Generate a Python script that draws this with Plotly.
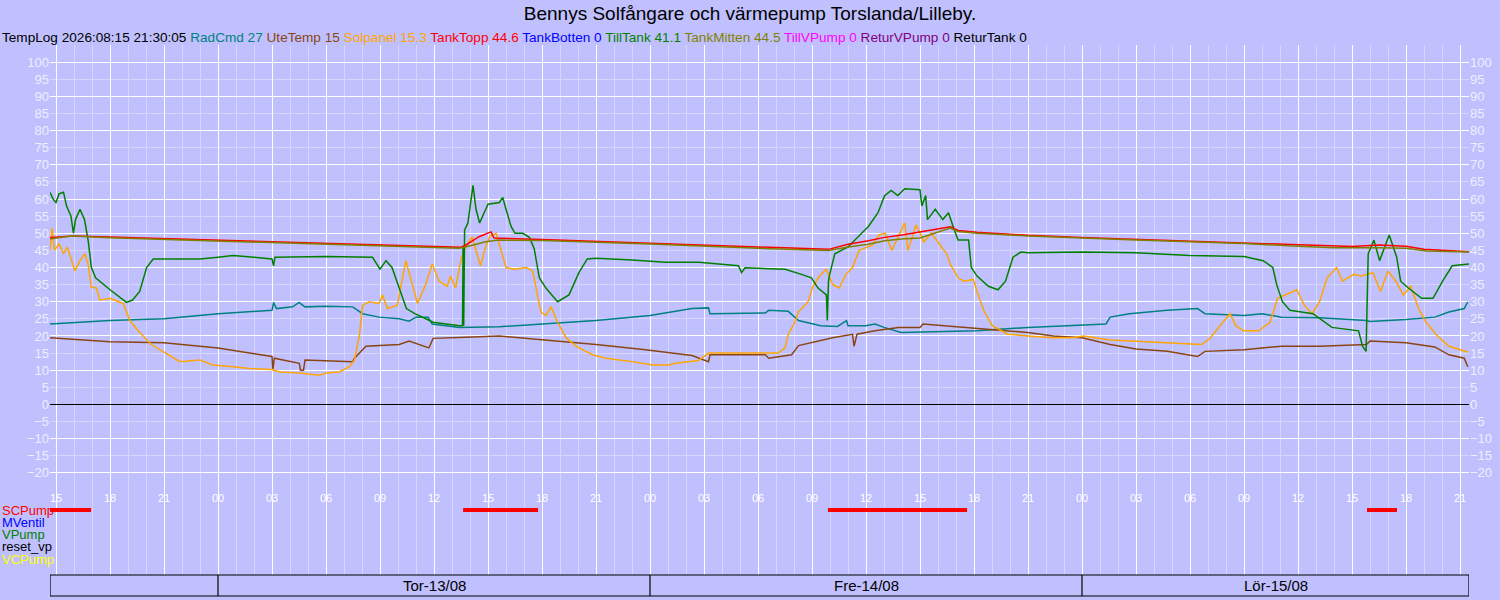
import plotly.graph_objects as go

# --- data (day-of-month + clock time, value) ---
ute_t = ["12 14:40", "12 18:00", "12 21:00", "13 00:00", "13 03:00", "13 03:03", "13 03:08", "13 04:31", "13 04:35",
         "13 04:45", "13 04:50", "13 07:29", "13 07:35", "13 08:13", "13 10:04", "13 10:37", "13 11:43", "13 11:57",
         "13 13:47", "13 15:38", "13 21:00", "13 23:45", "14 02:20", "14 03:15", "14 03:20", "14 06:24", "14 06:36",
         "14 07:52", "14 08:15", "14 10:09", "14 11:15", "14 11:20", "14 11:30", "14 12:30", "14 13:48", "14 15:00",
         "14 15:10", "14 18:10", "14 21:00", "14 22:24", "15 00:00", "15 01:34", "15 03:00", "15 04:44", "15 06:25",
         "15 06:50", "15 09:00", "15 11:05", "15 13:12", "15 15:48", "15 16:00", "15 18:00", "15 19:36", "15 20:23",
         "15 21:14", "15 21:26"]
ute_v = [19.5, 18.3, 18, 16.5, 14, 10.2, 13.5, 12, 10, 10, 13, 12.5, 13.5, 17, 17.5, 18.5, 16.5, 19.3,
         19.6, 20, 17.5, 16, 14.3, 12.5, 14.5, 14.5, 13.5, 14.5, 17.2, 19.5, 20.5, 17, 20.5, 21.5, 22.5, 22.5,
         23.5, 22.3, 21, 20, 19.5, 17.5, 16.2, 15.5, 14, 15.5, 16, 17, 17, 17.5, 18.5, 18, 16.8, 14.5, 13.5, 11]

rad_t = ["12 14:40", "12 18:00", "12 21:00", "13 00:00", "13 03:00", "13 03:05", "13 03:15", "13 04:09", "13 04:30",
         "13 04:50", "13 06:00", "13 07:29", "13 08:02", "13 08:57", "13 10:04", "13 10:37", "13 11:00", "13 11:40",
         "13 11:54", "13 13:25", "13 15:38", "13 21:00", "14 00:00", "14 02:20", "14 03:15", "14 03:20", "14 06:24",
         "14 06:36", "14 07:41", "14 08:15", "14 09:29", "14 10:25", "14 10:55", "14 11:00", "14 11:59", "14 12:30",
         "14 13:00", "14 13:57", "14 18:10", "14 21:00", "15 01:20", "15 01:34", "15 02:38", "15 04:44", "15 06:25",
         "15 06:50", "15 09:00", "15 10:00", "15 11:05", "15 13:12", "15 15:48", "15 16:00", "15 18:00", "15 19:36",
         "15 20:23", "15 21:14", "15 21:26"]
rad_v = [23.5, 24.5, 25, 26.5, 27.5, 29.8, 28, 28.5, 29.8, 28.5, 28.7, 28.5, 26.5, 25.5, 25, 24.3, 25.5, 25.5,
         23.5, 22.5, 22.7, 24.5, 26, 28, 28.2, 26.5, 26.7, 27.5, 27.2, 24.5, 23, 22.8, 24.5, 23, 23, 23.5,
         22.5, 21, 21.5, 22.5, 23.5, 25.5, 26.5, 27.5, 28, 26.5, 26, 26.5, 25.5, 25.3, 24.5, 24.2, 24.8, 25.5,
         27, 28, 30]

sol_t = ["12 14:40", "12 14:47", "12 14:55", "12 15:10", "12 15:25", "12 15:38", "12 16:03", "12 16:20", "12 16:36",
         "12 16:47", "12 16:58", "12 17:15", "12 17:26", "12 18:00", "12 18:44", "12 19:06", "12 19:39", "12 20:18",
         "12 20:56", "12 21:53", "12 22:59", "12 23:43", "13 00:50", "13 01:45", "13 03:00", "13 03:25", "13 04:31",
         "13 05:38", "13 06:00", "13 06:44", "13 07:18", "13 07:35", "13 07:51", "13 08:02", "13 08:24", "13 08:57",
         "13 09:08", "13 09:25", "13 09:58", "13 10:15", "13 10:26", "13 10:48", "13 11:05", "13 11:32", "13 11:54",
         "13 12:17", "13 12:44", "13 12:55", "13 13:12", "13 13:29", "13 13:40", "13 14:07", "13 14:35", "13 14:52",
         "13 15:05", "13 15:27", "13 15:44", "13 16:00", "13 16:28", "13 17:07", "13 17:29", "13 17:40", "13 17:56",
         "13 18:13", "13 18:30", "13 18:52", "13 19:20", "13 19:53", "13 20:48", "13 21:32", "13 23:01", "14 00:07",
         "14 01:02", "14 01:24", "14 02:41", "14 03:15", "14 07:08", "14 07:30", "14 07:41", "14 08:03", "14 08:15",
         "14 08:47", "14 09:03", "14 09:25", "14 09:47", "14 10:09", "14 10:31", "14 10:53", "14 11:15", "14 11:37",
         "14 12:21", "14 12:43", "14 13:04", "14 13:26", "14 13:48", "14 14:09", "14 14:20", "14 14:47", "14 15:13",
         "14 15:38", "14 16:03", "14 16:29", "14 16:41", "14 17:07", "14 17:26", "14 17:58", "14 18:10", "14 18:35",
         "14 19:01", "14 19:52", "14 21:00", "14 22:24", "14 23:27", "15 00:05", "15 01:34", "15 04:44", "15 06:38",
         "15 07:03", "15 07:41", "15 08:13", "15 08:33", "15 08:58", "15 09:49", "15 10:27", "15 10:52", "15 11:18",
         "15 11:56", "15 12:21", "15 12:47", "15 13:12", "15 13:37", "15 14:09", "15 14:28", "15 15:06", "15 15:32",
         "15 16:10", "15 16:35", "15 17:00", "15 17:26", "15 17:51", "15 18:16", "15 18:42", "15 19:07", "15 19:45",
         "15 20:23", "15 21:26"]
sol_v = [45, 51.5, 45, 47, 44, 46, 39, 42, 44,
         41, 34.3, 34, 30.5, 31, 29.5, 24.5, 21, 17.5,
         15.5, 12.5, 13, 11.5, 11, 10.5, 10.2, 9.5, 9.2,
         8.5, 9.2, 9.5, 11, 13, 20, 29, 30, 29.5,
         32, 28, 29, 37, 42, 35, 29.5, 35, 41,
         36, 34.5, 37.5, 34, 42, 45, 49, 40.5, 46,
         49, 50, 45, 40, 39.5, 40, 39, 34, 27,
         26, 28.5, 24, 19.5, 17, 14.5, 13.5, 12.5, 11.5,
         11.5, 12, 12.8, 15, 15, 16.5, 20.5, 24, 27,
         30, 34.5, 37.5, 39.5, 35, 34, 38, 40, 45,
         46.5, 49.5, 50, 45, 49, 53, 45, 52.5, 47.5,
         50, 47, 44, 41, 37, 36, 36.5, 33, 27,
         23, 20.5, 20, 19.5, 19.5, 20, 18.8, 18, 17.5,
         19, 23, 26.5, 23, 21.5, 21.5, 24, 31, 32,
         33.5, 29, 26.5, 30, 37, 40, 36, 38, 37.5,
         38.5, 33, 39, 36, 32, 34.5, 28, 24, 20,
         17, 15.3]

topp_t = ["12 14:40", "12 16:00", "12 18:00", "13 00:00", "13 06:00", "13 12:00", "13 13:30", "13 13:45", "13 14:30",
          "13 15:10", "13 15:20", "13 18:00", "13 21:00", "14 00:00", "14 06:00", "14 09:55", "14 11:00", "14 12:08",
          "14 13:02", "14 14:00", "14 15:00", "14 16:03", "14 16:41", "14 17:07", "14 18:10", "14 21:00", "15 00:00",
          "15 03:00", "15 06:00", "15 09:00", "15 12:00", "15 15:00", "15 16:30", "15 18:00", "15 19:00", "15 21:30"]
topp_v = [48.8, 49.2, 48.9, 48.0, 47.1, 46.2, 45.9, 46.5, 49,
          50.4, 48.6, 48.2, 47.6, 47.1, 46.0, 45.3, 46.8, 47.8,
          48.8, 49.5, 50.3, 51.3, 51.9, 50.8, 50.3, 49.4, 48.8,
          48.3, 47.8, 47.3, 46.6, 46.1, 46.6, 46.2, 45.3, 44.6]

mitt_t = ["12 14:40", "12 15:50", "12 18:00", "13 00:00", "13 06:00", "13 12:00", "13 13:24", "13 14:08", "13 14:52",
          "13 15:36", "13 18:00", "13 21:00", "14 00:00", "14 06:00", "14 09:55", "14 11:00", "14 12:08", "14 13:02",
          "14 13:57", "14 15:00", "14 16:03", "14 16:41", "14 17:07", "14 18:10", "14 21:00", "15 00:00", "15 03:00",
          "15 06:00", "15 09:00", "15 12:00", "15 14:00", "15 16:30", "15 18:00", "15 19:10", "15 21:30"]
mitt_v = [48.3, 49.2, 48.7, 47.8, 46.8, 45.8, 45.6, 46.5, 47.5,
          48.0, 47.9, 47.4, 46.9, 45.6, 45.0, 46.0, 46.8, 47.8,
          48.3, 48.6, 50.3, 51.5, 50.5, 50.0, 49.2, 48.5, 48.0,
          47.5, 47.0, 46.2, 45.8, 45.8, 45.6, 44.8, 44.5]

till_t = ["12 14:40", "12 14:50", "12 15:00", "12 15:10", "12 15:25", "12 15:35", "12 15:50", "12 15:58", "12 16:05",
          "12 16:20", "12 16:35", "12 16:47", "12 16:58", "12 17:12", "12 18:00", "12 18:55", "12 19:15", "12 19:39",
          "12 20:02", "12 20:24", "12 21:00", "12 23:00", "13 00:00", "13 00:50", "13 02:00", "13 03:00", "13 03:05",
          "13 03:10", "13 06:00", "13 08:35", "13 09:00", "13 09:20", "13 09:40", "13 10:00", "13 10:15", "13 10:28",
          "13 10:56", "13 11:57", "13 13:25", "13 13:35", "13 13:37", "13 13:39", "13 13:42", "13 13:53", "13 14:10",
          "13 14:20", "13 14:32", "13 15:00", "13 15:38", "13 15:49", "13 16:00", "13 16:17", "13 16:30", "13 16:56",
          "13 17:18", "13 17:34", "13 17:51", "13 18:13", "13 18:52", "13 19:30", "13 20:03", "13 20:31", "13 21:00",
          "13 23:00", "14 00:52", "14 02:43", "14 04:55", "14 05:05", "14 05:17", "14 07:30", "14 08:25", "14 08:58",
          "14 09:20", "14 09:48", "14 09:51", "14 09:55", "14 09:59", "14 10:16", "14 11:00", "14 11:45", "14 12:08",
          "14 12:40", "14 13:02", "14 13:24", "14 13:46", "14 14:09", "14 15:00", "14 15:06", "14 15:19", "14 15:25",
          "14 15:51", "14 16:16", "14 16:35", "14 16:54", "14 17:07", "14 17:42", "14 17:51", "14 18:10", "14 18:48",
          "14 19:20", "14 19:45", "14 20:10", "14 20:36", "14 21:00", "15 00:00", "15 03:00", "15 06:00", "15 09:00",
          "15 10:04", "15 10:36", "15 10:49", "15 11:08", "15 11:33", "15 12:50", "15 13:53", "15 15:22", "15 15:35",
          "15 15:47", "15 15:54", "15 16:13", "15 16:32", "15 17:04", "15 17:29", "15 17:42", "15 18:08", "15 18:52",
          "15 19:30", "15 20:02", "15 20:34", "15 21:30"]
till_v = [62, 60, 59, 61.5, 62, 58, 55, 50, 54,
          57, 54, 48, 40, 37, 33.5, 29.8, 30.5, 33,
          40, 42.5, 42.5, 42.5, 43, 43.5, 43, 42.5, 40.5,
          43, 43.2, 43, 39.5, 42, 40, 35, 31, 28,
          26.5, 24, 23, 23, 46, 23, 51, 53, 64,
          57, 53, 58.5, 59, 60.5, 57, 52, 50, 50,
          48.8, 45.5, 37, 34, 30, 32, 38.5, 42.5, 42.7,
          42.2, 41.5, 41.5, 40.5, 38.5, 39.9, 39.5, 38, 37,
          34, 32, 24.5, 36, 38, 44, 46, 50, 52,
          56, 61, 62.5, 61, 63, 62.7, 58, 61, 54,
          57, 54, 56, 51, 48, 48, 40, 37.5, 34.5,
          33.5, 36, 43, 44.5, 44.3, 44.5, 44.3, 43.5, 43.2,
          42, 40, 35, 30, 27.5, 26.5, 22.5, 21.5, 17,
          15.5, 44, 48, 42, 49.5, 43, 36, 34, 31,
          31, 36, 40.5, 41]

# SCPump on-intervals
sc_on = [("12 14:40", "12 16:57"), ("13 13:37", "13 17:47"), ("14 09:53", "14 17:37"), ("15 15:50", "15 17:30")]

pump_names = ["SCPump", "MVentil", "VPump", "reset_vp", "VCPump"]
pump_colors = ["#ff0000", "#0000ff", "#008000", "#000000", "#ffff00"]

header_items = [("RadCmd 27", "#008080"), ("UteTemp 15", "#8b4513"), ("Solpanel 15.3", "#ffa500"),
                ("TankTopp 44.6", "#ff0000"), ("TankBotten 0", "#0000ff"), ("TillTank 41.1", "#008000"),
                ("TankMitten 44.5", "#808000"), ("TillVPump 0", "#ff00ff"), ("ReturVPump 0", "#800080"),
                ("ReturTank 0", "#000000")]

day_starts = ["13 00:00", "14 00:00", "15 00:00"]
day_labels = [("13 12:00", "Tor-13/08"), ("14 12:00", "Fre-14/08"), ("15 10:45", "Lör-15/08")]

x_start, x_end = "12 14:40", "15 21:30"
ytick_vals = list(range(-20, 101, 5))


def ts(s):
    return f"2026-08-{s[:2]} {s[3:]}"


def tl(lst):
    return [ts(s) for s in lst]


BG = "#c0c0ff"
MINOR = "#d6d6ff"
LABEL = "#eeeeff"
SANS = "Liberation Sans, Arial, sans-serif"

fig = go.Figure()

series = [
    (rad_t, rad_v, "#008080"),
    (ute_t, ute_v, "#8b4513"),
    (sol_t, sol_v, "#ffa500"),
    (till_t, till_v, "#008000"),
    (topp_t, topp_v, "#ff0000"),
    (mitt_t, mitt_v, "#808000"),
]
for t, v, c in series:
    fig.add_trace(go.Scatter(x=tl(t), y=v, mode="lines", line=dict(color=c, width=1.5),
                             xaxis="x", yaxis="y", hoverinfo="skip"))

# pump bars
bx, by = [], []
for a, b in sc_on:
    bx += [ts(a), ts(b), None]
    by += [0, 0, None]
fig.add_trace(go.Scatter(x=bx, y=by, mode="lines", line=dict(color="#ff0000", width=4),
                         xaxis="x2", yaxis="y2", hoverinfo="skip"))

# empty traces so the label-only overlay axes get drawn
fig.add_trace(go.Scatter(x=[ts(x_start)], y=[None], xaxis="x", yaxis="y3"))
fig.add_trace(go.Scatter(x=[ts(x_start)], y=[None], xaxis="x", yaxis="y4"))

dom_split = 85 / 530
xcommon = dict(type="date", range=[ts(x_start), ts(x_end)], tick0="2026-08-12 00:00", dtick=3 * 3600000,
               gridcolor="white", gridwidth=1, showline=False, zeroline=False, automargin=False,
               minor=dict(dtick=3600000, gridcolor=MINOR, showgrid=True))
ylab = dict(overlaying="y", anchor="x", range=[-25, 105], tickmode="array", tickvals=ytick_vals,
            showgrid=False, zeroline=False, ticks="", automargin=False, fixedrange=True,
            tickfont=dict(family=SANS, size=13, color=LABEL))

fig.update_layout(
    width=1500, height=600,
    paper_bgcolor=BG, plot_bgcolor=BG,
    margin=dict(l=50, r=31, t=45, b=25),
    showlegend=False,
    title=dict(text="Bennys Solfångare och värmepump Torslanda/Lilleby.", x=0.5, xanchor="center",
               y=1 - 13 / 600, yanchor="middle", font=dict(family=SANS, size=19, color="black")),
    xaxis=dict(**xcommon, domain=[0, 1], anchor="y", tickformat="%H", ticks="",
               tickfont=dict(family=SANS, size=11, color="white")),
    xaxis2=dict(**xcommon, domain=[0, 1], anchor="y2", showticklabels=False, matches="x"),
    yaxis=dict(domain=[dom_split, 1], range=[-25, 105], tick0=0, dtick=10, gridcolor="white",
               showticklabels=False, zeroline=True, zerolinecolor="black", zerolinewidth=1,
               automargin=False, minor=dict(dtick=5, gridcolor=MINOR, showgrid=True), fixedrange=True),
    yaxis3=dict(**ylab, side="left"),
    yaxis4=dict(**ylab, side="right"),
    yaxis2=dict(domain=[0, dom_split], range=[65 / 12.25, -20 / 12.25], showgrid=False,
                showticklabels=False, zeroline=False, automargin=False),
)

lx = -50 / 1419
header = "TempLog 2026:08:15 21:30:05 " + " ".join(
    f"<span style='color:{c}'>{txt}</span>" for txt, c in header_items)
fig.add_annotation(text=header, xref="paper", yref="paper", x=lx, y=1 + 7 / 530, xanchor="left",
                   yanchor="middle", showarrow=False, font=dict(family=SANS, size=13.6, color="black"))

for i, (name, col) in enumerate(zip(pump_names, pump_colors)):
    fig.add_annotation(text=name, xref="paper", yref="y2", x=lx, y=i, xanchor="left", yanchor="middle",
                       showarrow=False, font=dict(family=SANS, size=13, color=col))

# date box under the pump rows
yb = -21 / 530
fig.add_shape(type="rect", xref="x", yref="paper", x0=ts(x_start), x1=ts(x_end), y0=yb, y1=0,
              line=dict(color="black", width=1.2))
for d in day_starts:
    fig.add_shape(type="line", xref="x", yref="paper", x0=ts(d), x1=ts(d), y0=yb, y1=0,
                  line=dict(color="black", width=1.2))
for d, lab in day_labels:
    fig.add_annotation(text=lab, xref="x", yref="paper", x=ts(d), y=yb / 2, yanchor="middle",
                       showarrow=False, font=dict(family=SANS, size=15, color="black"))

fig.write_html("out.html", config={"displayModeBar": False},
               post_script="document.body.style.margin='0';document.body.style.overflow='hidden';")
